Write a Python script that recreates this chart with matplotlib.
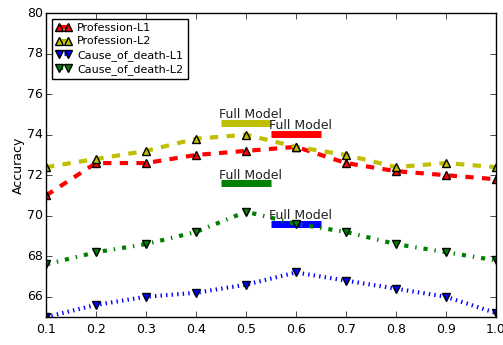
import matplotlib
matplotlib.use("Agg")
import matplotlib.pyplot as plt

plt.style.use("classic")

alpha = [0.1, 0.2, 0.3, 0.4, 0.5, 0.6, 0.7, 0.8, 0.9, 1.0]
prof_l1 = [71.0, 72.6, 72.6, 73.0, 73.2, 73.4, 72.6, 72.2, 72.0, 71.8]
prof_l2 = [72.4, 72.8, 73.2, 73.8, 74.0, 73.4, 73.0, 72.4, 72.6, 72.4]
cod_l1 = [65.0, 65.6, 66.0, 66.2, 66.6, 67.2, 66.8, 66.4, 66.0, 65.2]
cod_l2 = [67.6, 68.2, 68.6, 69.2, 70.2, 69.6, 69.2, 68.6, 68.2, 67.8]

full_model = {"Profession-L1": 74.05, "Profession-L2": 74.6,
              "Cause_of_death-L1": 69.6, "Cause_of_death-L2": 71.6}
full_x = {"Profession-L1": (0.55, 0.65), "Profession-L2": (0.45, 0.55),
          "Cause_of_death-L1": (0.55, 0.65), "Cause_of_death-L2": (0.45, 0.55)}

fig = plt.figure(figsize=(5.03, 3.45), dpi=100, facecolor="white")
ax = fig.add_axes([0.0915, 0.081, 0.8945, 0.881])

series = [
    ("Profession-L1", prof_l1, "r", "--", "^"),
    ("Profession-L2", prof_l2, "y", "--", "^"),
    ("Cause_of_death-L1", cod_l1, "b", ":", "v"),
    ("Cause_of_death-L2", cod_l2, "g", "-.", "v"),
]
for name, vals, c, ls, m in series:
    ax.plot(alpha, vals, color=c, linestyle=ls, linewidth=3, marker=m,
            markersize=5.5, markerfacecolor=c, markeredgecolor="k",
            markeredgewidth=1, label=name)
    x0, x1 = full_x[name]
    y = full_model[name]
    ax.plot([x0, x1], [y, y], color=c, linewidth=5, solid_capstyle="butt")
    ax.text(x0 - 0.003, y + 0.08, "Full Model", fontsize=9, color="#222222",
            ha="left", va="bottom")

ax.set_xlim(0.1, 1.0)
ax.set_ylim(65, 80)
ax.set_xticks(alpha)
ax.set_yticks([66, 68, 70, 72, 74, 76, 78, 80])
ax.tick_params(labelsize=9)
ax.tick_params(axis="y", pad=2)
ax.tick_params(axis="x", pad=4)
ax.set_ylabel("Accuracy", fontsize=9, labelpad=2)
ax.set_xlabel(r"$\alpha$", fontsize=9)
leg = ax.legend(loc="upper left", fontsize=8, numpoints=2, handlelength=1.4,
                borderpad=0.4, labelspacing=0.3, handletextpad=0.5)

fig.savefig("out.png", dpi=100, facecolor="white")
